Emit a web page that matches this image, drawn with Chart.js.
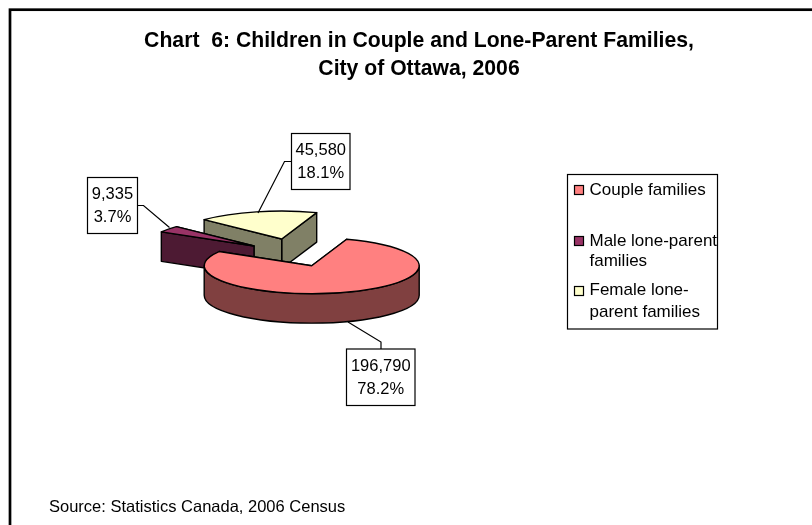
<!DOCTYPE html>
<html>
<head>
<meta charset="utf-8">
<title>Chart 6</title>
<script src="https://cdn.jsdelivr.net/npm/chart.js@4"></script>
<style>
  html, body { margin: 0; padding: 0; background: #fff; overflow: hidden; }
  canvas { display: block; }
</style>
</head>
<body>
<canvas id="myChart" width="812" height="525"></canvas>
<script>
// data
var categories = ['Couple families', 'Male lone-parent families', 'Female lone-parent families'];
var children = [196790, 9335, 45580];
var percentLabels = ['78.2%', '3.7%', '18.1%'];
var legendLines = [['Couple families'], ['Male lone-parent', 'families'], ['Female lone-', 'parent families']];
var titleLines = ['Chart  6: Children in Couple and Lone-Parent Families,', 'City of Ottawa, 2006'];
var sourceText = 'Source: Statistics Canada, 2006 Census';

// styles
var topColors = ['#FF8080', '#993366', '#FFFFCC'];
var sideColors = ['#804040', '#4D1A33', '#808066'];
var FONT = '"Liberation Sans", Arial, sans-serif';

// how the pie is tilted and pulled apart
var tilt = 0.26;
var depth = 29.5;
var explode = [[0, 0], [-57.7, -19.7], [-30, -26.7]];
var drawOrder = [2, 1, 0];

// label boxes and their leader lines, same order as categories
var labelBoxes = [
    { x: 346.5, y: 349, w: 68.5, h: 56.5, leader: [[381, 349], [381, 342], [348, 322]] },
    { x: 87.5, y: 177.5, w: 50, h: 56, leader: [[137.5, 205.5], [143.5, 205.5], [169.5, 227.5]] },
    { x: 291.5, y: 133.5, w: 58.5, h: 56, leader: [[291.5, 161.5], [284.5, 161.5], [258, 213]] }
];

var legendBox = { x: 567.5, y: 174.5, w: 150, h: 154.5 };
var legendRows = [
    { swatchY: 185, baselines: [195] },
    { swatchY: 236, baselines: [246, 266] },
    { swatchY: 286, baselines: [295, 317] }
];

function drawSlice(ctx, el, i) {
    var cx = el.x + explode[i][0];
    var cy = el.y + explode[i][1];
    var rx = el.outerRadius;
    var ry = rx * tilt;
    var a0 = el.startAngle;
    var a1 = el.endAngle;

    ctx.lineWidth = 1.4;
    ctx.strokeStyle = '#000';
    ctx.lineJoin = 'round';
    ctx.fillStyle = sideColors[i];

    // the two cut faces, the one further back first
    var faces = Math.sin(a0) < Math.sin(a1) ? [a0, a1] : [a1, a0];
    faces.forEach(function (a) {
        var px = cx + rx * Math.cos(a);
        var py = cy + ry * Math.sin(a);
        ctx.beginPath();
        ctx.moveTo(cx, cy);
        ctx.lineTo(px, py);
        ctx.lineTo(px, py + depth);
        ctx.lineTo(cx, cy + depth);
        ctx.closePath();
        ctx.fill();
        ctx.stroke();
    });

    // outer wall, only the part facing the viewer
    for (var k = 0; k < 2; k++) {
        var from = Math.max(a0, 2 * Math.PI * k);
        var to = Math.min(a1, Math.PI + 2 * Math.PI * k);
        if (from < to) {
            ctx.beginPath();
            ctx.ellipse(cx, cy, rx, ry, 0, from, to);
            ctx.ellipse(cx, cy + depth, rx, ry, 0, to, from, true);
            ctx.closePath();
            ctx.fill();
            ctx.stroke();
        }
    }

    // top face is the chart's own arc, squashed
    ctx.save();
    ctx.translate(cx, cy);
    ctx.scale(1, tilt);
    ctx.translate(-el.x, -el.y);
    el.draw(ctx);
    ctx.restore();

    ctx.beginPath();
    ctx.moveTo(cx, cy);
    ctx.ellipse(cx, cy, rx, ry, 0, a0, a1);
    ctx.closePath();
    ctx.stroke();
}

var tiltedPie = {
    id: 'tiltedPie',
    beforeDatasetDraw: function (chart, args) {
        var ctx = chart.ctx;
        var arcs = args.meta.data;
        ctx.save();
        drawOrder.forEach(function (i) {
            drawSlice(ctx, arcs[i], i);
        });
        ctx.restore();
        return false;
    }
};

var pageText = {
    id: 'pageText',
    beforeDraw: function (chart) {
        var ctx = chart.ctx;
        ctx.save();
        ctx.fillStyle = '#fff';
        ctx.fillRect(0, 0, 812, 525);
        // frame runs off the right and bottom of the picture
        ctx.strokeStyle = '#000';
        ctx.lineWidth = 2.7;
        ctx.strokeRect(10, 9.7, 900, 600);
        ctx.restore();
    },
    afterDraw: function (chart) {
        var ctx = chart.ctx;
        ctx.save();
        ctx.fillStyle = '#000';
        ctx.strokeStyle = '#000';
        ctx.textBaseline = 'alphabetic';

        ctx.textAlign = 'center';
        ctx.font = 'bold 21.2px ' + FONT;
        ctx.fillText(titleLines[0], 419, 47);
        ctx.fillText(titleLines[1], 419, 75);

        ctx.textAlign = 'left';
        ctx.font = '16.5px ' + FONT;
        ctx.fillText(sourceText, 49, 512);

        // data labels
        ctx.lineWidth = 1.2;
        labelBoxes.forEach(function (b, i) {
            ctx.beginPath();
            b.leader.forEach(function (p, j) {
                if (j === 0) ctx.moveTo(p[0], p[1]);
                else ctx.lineTo(p[0], p[1]);
            });
            ctx.stroke();
            ctx.fillStyle = '#fff';
            ctx.fillRect(b.x, b.y, b.w, b.h);
            ctx.strokeRect(b.x, b.y, b.w, b.h);
            ctx.fillStyle = '#000';
            ctx.textAlign = 'center';
            ctx.fillText(children[i].toLocaleString('en-US'), b.x + b.w / 2, b.y + 21.5);
            ctx.fillText(percentLabels[i], b.x + b.w / 2, b.y + 44.5);
        });

        // legend
        ctx.textAlign = 'left';
        ctx.font = '17px ' + FONT;
        ctx.strokeRect(legendBox.x, legendBox.y, legendBox.w, legendBox.h);
        legendRows.forEach(function (row, i) {
            ctx.fillStyle = topColors[i];
            ctx.fillRect(574.5, row.swatchY + 0.5, 9, 9);
            ctx.strokeRect(574.5, row.swatchY + 0.5, 9, 9);
            ctx.fillStyle = '#000';
            legendLines[i].forEach(function (line, j) {
                ctx.fillText(line, 589.5, row.baselines[j]);
            });
        });
        ctx.restore();
    }
};

var ctx = document.getElementById('myChart').getContext('2d');
var myChart = new Chart(ctx, {
    type: 'pie',
    data: {
        labels: categories,
        datasets: [{
            data: children,
            backgroundColor: topColors,
            borderWidth: 0
        }]
    },
    options: {
        responsive: false,
        animation: false,
        rotation: 19,
        radius: 107.5,
        layout: { padding: { right: 188.6, top: 6.4 } },
        plugins: {
            legend: { display: false },
            tooltip: { enabled: false }
        }
    },
    plugins: [pageText, tiltedPie]
});
</script>
</body>
</html>
